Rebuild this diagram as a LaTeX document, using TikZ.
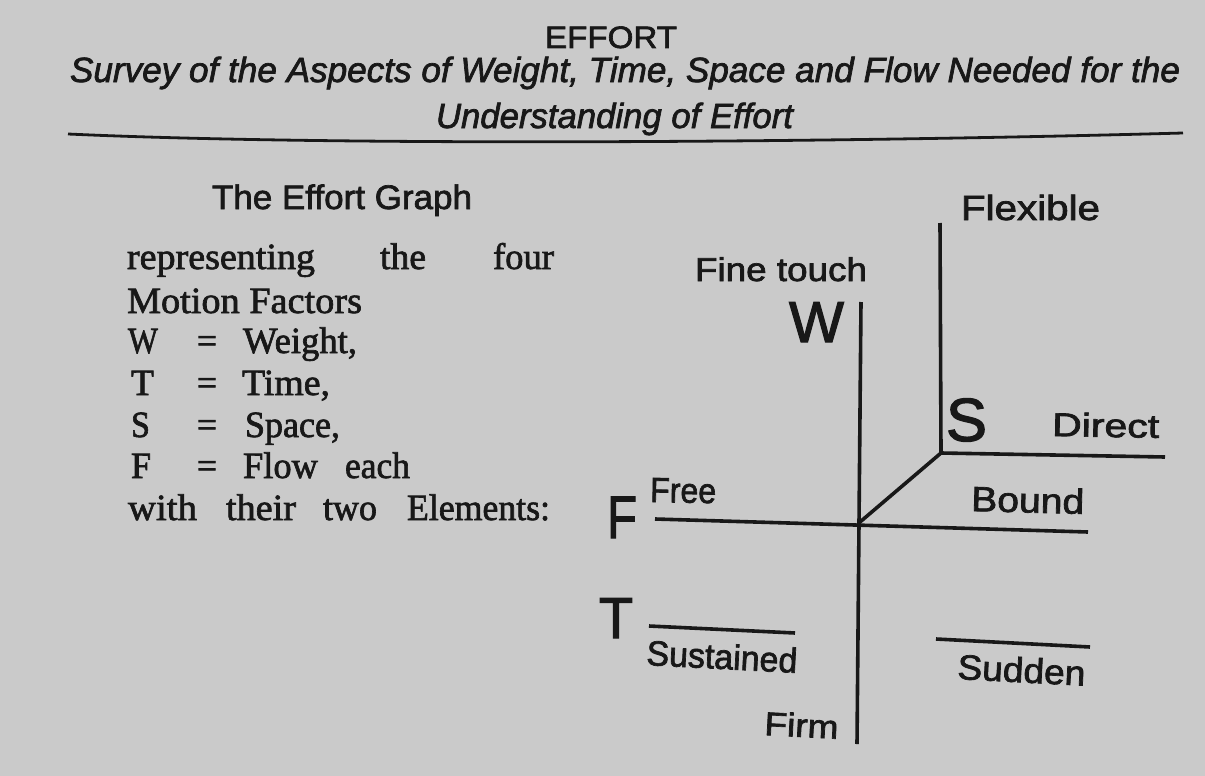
\documentclass[tikz,border=0pt]{standalone}
\usepackage{fontspec}
\setmainfont{Liberation Serif}
\setsansfont{Liberation Sans}
\newfontfamily\msans[FakeBold=2,ItalicFeatures={FakeBold=2}]{Liberation Sans}
\newfontfamily\mserif[FakeBold=1.8]{Liberation Serif}
\usepackage{graphicx}
\definecolor{paper}{RGB}{202,202,202}
\definecolor{ink}{RGB}{24,24,24}
\newcommand\fitto[2]{\resizebox{#1}{\height}{#2}}
\begin{document}
\begin{tikzpicture}[x=1pt,y=-1pt,
  lbl/.style={inner sep=0pt, outer sep=0pt, anchor=base west, text=ink, font=\msans\fontsize{34}{34}\selectfont},
  ttl/.style={lbl, font=\msans\fontsize{31}{31}\selectfont},
  ttli/.style={lbl, font=\msans\itshape\fontsize{35}{35}\selectfont},
  ser/.style={inner sep=0pt, outer sep=0pt, anchor=base west, text=ink, font=\mserif\fontsize{37}{37}\selectfont},
  big/.style={lbl, font=\msans\fontsize{58}{58}\selectfont},
  axis/.style={draw=ink, line width=3.6pt},
  rule/.style={draw=ink, line width=2.8pt}]
\fill[paper] (0,0) rectangle (1205,776);
\useasboundingbox (0,0) rectangle (1205,776);

% ---- heading ----
\node[ttl]  (t1) at (545,48)  {\fitto{132pt}{EFFORT}};
\node[ttli] (t2) at (70,82)   {\fitto{1110pt}{Survey of the Aspects of Weight, Time, Space and Flow Needed for the}};
\node[ttli] (t3) at (436,128) {\fitto{357pt}{Understanding of Effort}};
\coordinate (ruleL) at (68,134);
\coordinate (ruleR) at (1183,133);
\draw[rule] (ruleL) .. controls (330,146) and (820,143) .. (ruleR);

% ---- left text ----
\node[lbl] (graph) at (212,209) {\fitto{260pt}{The Effort Graph}};

\node[ser] (l1a) at (127,269) {\fitto{188pt}{representing}};
\node[ser] (l1b) at (380,269) {\fitto{46pt}{the}};
\node[ser] (l1c) at (493,269) {\fitto{61pt}{four}};

\node[ser] (l2) at (127,313) {\fitto{235pt}{Motion Factors}};

\node[ser] (l3a) at (128,353) {\fitto{30pt}{W}};
\node[ser] (l3b) at (197,353) {\fitto{20pt}{=}};
\node[ser] (l3c) at (243,353) {\fitto{114pt}{Weight,}};

\node[ser] (l4a) at (131,395) {\fitto{23pt}{T}};
\node[ser] (l4b) at (197,395) {\fitto{20pt}{=}};
\node[ser] (l4c) at (242,395) {\fitto{88pt}{Time,}};

\node[ser] (l5a) at (131,437) {\fitto{19pt}{S}};
\node[ser] (l5b) at (197,437) {\fitto{20pt}{=}};
\node[ser] (l5c) at (245,437) {\fitto{95pt}{Space,}};

\node[ser] (l6a) at (131,478) {\fitto{20pt}{F}};
\node[ser] (l6b) at (197,478) {\fitto{20pt}{=}};
\node[ser] (l6c) at (243,478) {\fitto{75pt}{Flow}};
\node[ser] (l6d) at (345,478) {\fitto{65pt}{each}};

\node[ser] (l7a) at (128,520) {\fitto{69pt}{with}};
\node[ser] (l7b) at (226,520) {\fitto{70pt}{their}};
\node[ser] (l7c) at (323,520) {\fitto{54pt}{two}};
\node[ser] (l7d) at (407,520) {\fitto{143pt}{Elements:}};

% ---- effort graph ----
\coordinate (flexTop) at (940,223);
\coordinate (corner) at (941,453);
\coordinate (directEnd) at (1165,457);
\coordinate (center) at (860,522);
\coordinate (wTop) at (861,302);
\coordinate (wBot) at (857,744);
\coordinate (fL) at (655,519);
\coordinate (fR) at (1088,532);
\coordinate (susL) at (649,626);
\coordinate (susR) at (795,633);
\coordinate (sudL) at (936,639);
\coordinate (sudR) at (1090,647);

\draw[axis] (flexTop) -- (corner) -- (directEnd);
\draw[axis] (corner) -- (center);
\draw[axis] (wTop) -- (wBot);
\draw[axis] (fL) -- (fR);
\draw[axis] (susL) -- (susR);
\draw[axis] (sudL) -- (sudR);

\node[lbl, font=\msans\fontsize{35}{35}\selectfont] (flex) at (961,220) {\fitto{139pt}{Flexible}};
\node[lbl, font=\msans\fontsize{33}{33}\selectfont] (fine) at (695,281) {\fitto{172pt}{Fine touch}};
\node[big] (W) at (789,342) {\fitto{55pt}{W}};
\node[big, font=\msans\fontsize{61}{61}\selectfont] (S) at (946,441) {\fitto{41pt}{S}};
\node[lbl, font=\msans\fontsize{33}{33}\selectfont, rotate=-1] (direct) at (1052,436) {\fitto{107pt}{Direct}};
\node[lbl, font=\msans\fontsize{35}{35}\selectfont, rotate=-1.5] (bound) at (971,511) {\fitto{113pt}{Bound}};
\node[lbl, font=\msans\fontsize{35}{35}\selectfont, rotate=-1] (free) at (650,502) {\fitto{66pt}{Free}};
\node[big, font=\msans\fontsize{60}{60}\selectfont] (F) at (607,538) {\fitto{30pt}{F}};
\node[big] (T) at (599,638) {\fitto{34pt}{T}};
\node[lbl, font=\msans\fontsize{35}{35}\selectfont, rotate=-3] (sus) at (646,665) {\fitto{151pt}{Sustained}};
\node[lbl, font=\msans\fontsize{35}{35}\selectfont, rotate=-3] (sud) at (957,679) {\fitto{128pt}{Sudden}};
\node[lbl, font=\msans\fontsize{33}{33}\selectfont, rotate=-3] (firm) at (764,735) {\fitto{74pt}{Firm}};
\end{tikzpicture}
\end{document}
